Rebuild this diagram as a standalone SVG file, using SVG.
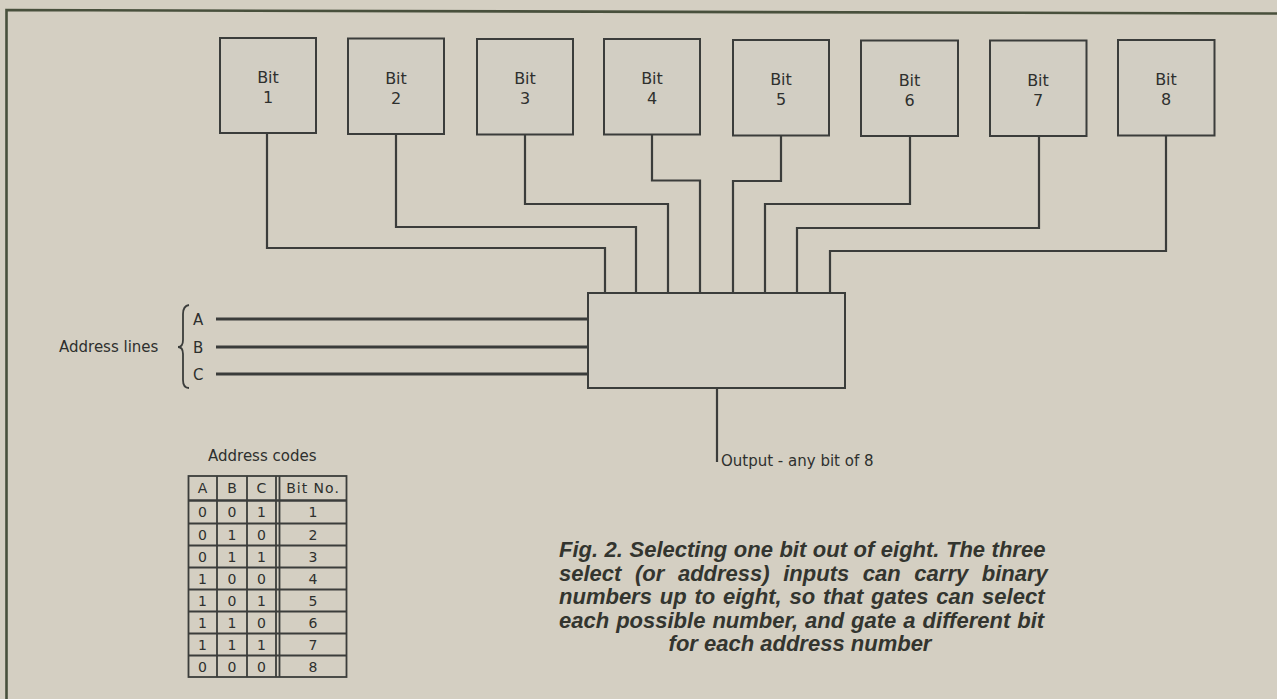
<svg xmlns="http://www.w3.org/2000/svg" width="1277" height="699" viewBox="0 0 1277 699">
<style>
.bg{fill:#d4cfc2}
.box{fill:#d2cec3;stroke:#3b3d3b;stroke-width:2}
.w{fill:none;stroke:#3b3d3b;stroke-width:2.2;stroke-linejoin:miter}
.addr{fill:none;stroke:#3a3c3a;stroke-width:3}
.frame{fill:none;stroke:#48503c;stroke-width:2.6}
.tl{fill:none;stroke:#3b3d3b;stroke-width:1.8}
.lbl{font-family:"DejaVu Sans",sans-serif;font-size:16px;fill:#2e302e;text-anchor:middle}
.t15{font-family:"DejaVu Sans",sans-serif;font-size:15px;fill:#2e302e}
.tc{font-family:"DejaVu Sans",sans-serif;font-size:14px;fill:#2e302e;text-anchor:middle}
.cap{font-family:"Liberation Sans",Arial,sans-serif;font-size:22px;font-weight:bold;font-style:italic;fill:#33352f}
</style>
<rect class="bg" x="0" y="0" width="1277" height="699"/>
<path class="frame" d="M6.5 699 V10 L1277 13.5"/>

<g id="bit1"><rect class="box" x="220" y="38" width="96" height="95"/><text class="lbl" x="268" y="83">Bit</text><text class="lbl" x="268" y="103">1</text></g>
<g id="bit2"><rect class="box" x="348" y="38.5" width="96" height="95.5"/><text class="lbl" x="396" y="83.5">Bit</text><text class="lbl" x="396" y="103.5">2</text></g>
<g id="bit3"><rect class="box" x="477" y="39" width="96" height="95.5"/><text class="lbl" x="525" y="84">Bit</text><text class="lbl" x="525" y="104">3</text></g>
<g id="bit4"><rect class="box" x="604" y="39" width="96" height="95.5"/><text class="lbl" x="652" y="84">Bit</text><text class="lbl" x="652" y="104">4</text></g>
<g id="bit5"><rect class="box" x="733" y="40" width="96" height="95.5"/><text class="lbl" x="781" y="85">Bit</text><text class="lbl" x="781" y="105">5</text></g>
<g id="bit6"><rect class="box" x="861" y="40.5" width="97" height="95.5"/><text class="lbl" x="909.5" y="85.5">Bit</text><text class="lbl" x="909.5" y="105.5">6</text></g>
<g id="bit7"><rect class="box" x="990" y="40.5" width="96.5" height="95.5"/><text class="lbl" x="1038" y="85.5">Bit</text><text class="lbl" x="1038" y="105.5">7</text></g>
<g id="bit8"><rect class="box" x="1118" y="40" width="96.5" height="95.5"/><text class="lbl" x="1166" y="85">Bit</text><text class="lbl" x="1166" y="105">8</text></g>

<g id="connectors">
<path class="w" d="M267 133 V248 H605 V293"/>
<path class="w" d="M396 134 V227 H636 V293"/>
<path class="w" d="M525 134.5 V204 H668 V293"/>
<path class="w" d="M652 134.5 V180.5 H700 V293"/>
<path class="w" d="M781 135.5 V181 H733 V293"/>
<path class="w" d="M910 136 V204 H765 V293"/>
<path class="w" d="M1039 136 V228 H797 V293"/>
<path class="w" d="M1166 135.5 V251 H830 V293"/>
<path class="addr" d="M216 319 H588"/>
<path class="addr" d="M216 347 H588"/>
<path class="addr" d="M216 374 H588"/>
<path class="w" d="M717 388 V462"/>
</g>

<g id="mux"><rect class="box" x="588" y="293" width="257" height="95"/></g>

<g id="address-lines">
<text class="t15" x="59" y="352" font-size="16">Address lines</text>
<path class="tl" d="M189 305 Q183 306 183 314 L183 340 Q183 347 178 347 Q183 347 183 354 L183 380 Q183 388 189 388"/>
<text class="t15" x="193" y="324.5">A</text>
<text class="t15" x="193" y="352.5">B</text>
<text class="t15" x="193" y="379.5">C</text>
</g>

<g id="output-label"><text class="t15" x="721" y="466">Output - any bit of 8</text></g>

<g id="address-codes">
<text class="t15" x="208" y="461" font-size="15.8">Address codes</text>
<rect class="tl" x="188.5" y="476" width="158" height="201"/>
<path class="tl" d="M217 476 V677 M247 476 V677 M276 476 V677 M279.5 476 V677"/>
<path class="tl" d="M188.5 523.5 H346.5 M188.5 545.5 H346.5 M188.5 567.5 H346.5 M188.5 589.5 H346.5 M188.5 611.5 H346.5 M188.5 633.5 H346.5 M188.5 655.5 H346.5"/>
<path fill="none" stroke="#3b3d3b" stroke-width="2.6" d="M188.5 500.5 H346.5"/>
<text class="tc" x="202.5" y="493">A</text><text class="tc" x="232" y="493">B</text><text class="tc" x="261.5" y="493">C</text><text class="tc" x="313" y="493" letter-spacing="1">Bit No.</text>
<text class="tc" x="202.5" y="517">0</text><text class="tc" x="232" y="517">0</text><text class="tc" x="261.5" y="517">1</text><text class="tc" x="313" y="517">1</text>
<text class="tc" x="202.5" y="539.5">0</text><text class="tc" x="232" y="539.5">1</text><text class="tc" x="261.5" y="539.5">0</text><text class="tc" x="313" y="539.5">2</text>
<text class="tc" x="202.5" y="561.5">0</text><text class="tc" x="232" y="561.5">1</text><text class="tc" x="261.5" y="561.5">1</text><text class="tc" x="313" y="561.5">3</text>
<text class="tc" x="202.5" y="583.5">1</text><text class="tc" x="232" y="583.5">0</text><text class="tc" x="261.5" y="583.5">0</text><text class="tc" x="313" y="583.5">4</text>
<text class="tc" x="202.5" y="605.5">1</text><text class="tc" x="232" y="605.5">0</text><text class="tc" x="261.5" y="605.5">1</text><text class="tc" x="313" y="605.5">5</text>
<text class="tc" x="202.5" y="627.5">1</text><text class="tc" x="232" y="627.5">1</text><text class="tc" x="261.5" y="627.5">0</text><text class="tc" x="313" y="627.5">6</text>
<text class="tc" x="202.5" y="649.5">1</text><text class="tc" x="232" y="649.5">1</text><text class="tc" x="261.5" y="649.5">1</text><text class="tc" x="313" y="649.5">7</text>
<text class="tc" x="202.5" y="671.5">0</text><text class="tc" x="232" y="671.5">0</text><text class="tc" x="261.5" y="671.5">0</text><text class="tc" x="313" y="671.5">8</text>
</g>

<g id="caption">
<text class="cap" x="559" y="557" word-spacing="0.4">Fig. 2. Selecting one bit out of eight. The three</text>
<text class="cap" x="559" y="580.5" word-spacing="7.5">select (or address) inputs can carry binary</text>
<text class="cap" x="559" y="604" word-spacing="1.7">numbers up to eight, so that gates can select</text>
<text class="cap" x="559" y="627.5" word-spacing="0.9">each possible number, and gate a different bit</text>
<text class="cap" x="800" y="651" text-anchor="middle">for each address number</text>
</g>
</svg>
